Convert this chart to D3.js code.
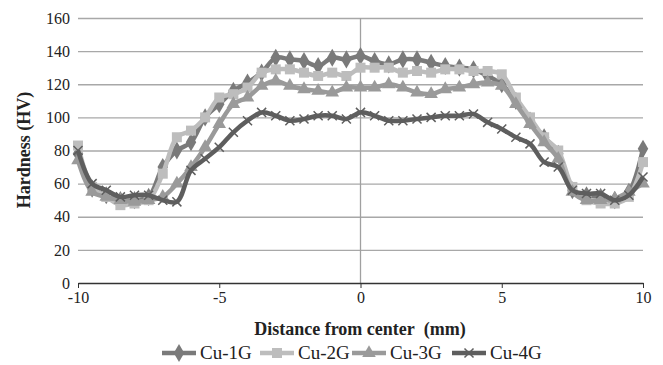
<!DOCTYPE html>
<html>
<head>
<meta charset="utf-8">
<script src="https://cdn.jsdelivr.net/npm/d3@7"></script>
<style>
  html, body { margin: 0; padding: 0; background: #fff; overflow: hidden; }
  svg { display: block; }
  svg text { font-family: "Liberation Serif", "Times New Roman", serif; fill: #222; }
</style>
</head>
<body>
<svg id="chart" width="663" height="365"></svg>
<script>
const distance = [-10,-9.5,-9,-8.5,-8,-7.5,-7,-6.5,-6,-5.5,-5,-4.5,-4,-3.5,-3,-2.5,-2,-1.5,-1,-0.5,0,
  0.5,1,1.5,2,2.5,3,3.5,4,4.5,5,5.5,6,6.5,7,7.5,8,8.5,9,9.5,10]

const cu1G = [78,57,53,50,50,52,70,80,85,100,108,116,121,127,136,135,134,131,136,135,137,
  134,132,135,135,133,131,130,129,125,120,110,98,88,78,56,53,52,50,55,81]
const cu2G = [83,58,52,47,48,50,66,88,92,100,112,114,118,127,129,129,127,125,127,125,130,
  130,130,127,128,127,129,129,128,128,126,112,100,88,80,58,50,48,48,52,73]
const cu3G = [74,55,52,50,49,50,52,60,70,82,96,108,112,119,122,119,117,116,115,118,118,
  118,120,118,115,114,117,118,120,121,119,108,96,85,75,55,50,50,51,55,60]
const cu4G = [80,60,56,52,53,53,50,49,68,75,82,91,98,103,101,98,99,101,101,99,103,
  101,98,98,99,100,101,101,102,97,93,88,84,73,70,56,54,54,50,53,64]

const seriesNames = ['Cu-1G', 'Cu-2G', 'Cu-3G', 'Cu-4G']
const xTicks = [-10, -5, 0, 5, 10]
const yTicks = [0, 20, 40, 60, 80, 100, 120, 140, 160]

const svg = d3.select('#chart')
const margin = { top: 18, left: 78 }
const innerWidth = 643 - margin.left
const innerHeight = 283 - margin.top

const series = [
  { name: seriesNames[0], values: cu1G, color: '#7a7a7a', symbol: d3.symbolDiamond, size: 95 },
  { name: seriesNames[1], values: cu2G, color: '#bdbdbd', symbol: d3.symbolSquare, size: 100 },
  { name: seriesNames[2], values: cu3G, color: '#9a9a9a', symbol: d3.symbolTriangle, size: 80 },
  { name: seriesNames[3], values: cu4G, color: '#5e5e5e', symbol: d3.symbolTimes, size: 55 }
]

const xScale = d3.scaleLinear().domain([-10, 10]).range([0, innerWidth])
const yScale = d3.scaleLinear().domain([0, 160]).range([innerHeight, 0])

const g = svg.append('g')
  .attr('transform', `translate(${margin.left},${margin.top})`)

// gridlines
const yAxisG = g.append('g')
  .call(d3.axisLeft(yScale).tickValues(yTicks).tickSize(-innerWidth).tickPadding(8).tickFormat(d => String(d)))
yAxisG.attr('font-family', null).attr('font-size', 16)
yAxisG.select('.domain').remove()
yAxisG.selectAll('.tick line').attr('stroke', '#a8a8a8').attr('stroke-width', 1.3)
yAxisG.selectAll('.tick text').attr('fill', '#222')
yAxisG.selectAll('.tick').filter(d => d === 0).select('line').remove()

// center vertical axis
g.append('line')
  .attr('x1', xScale(0)).attr('x2', xScale(0))
  .attr('y1', 0).attr('y2', innerHeight)
  .attr('stroke', '#a0a0a0').attr('stroke-width', 1.3)

const xAxisG = g.append('g')
  .attr('transform', `translate(0,${innerHeight})`)
  .call(d3.axisBottom(xScale).tickValues(xTicks).tickSize(5).tickPadding(4).tickSizeOuter(0).tickFormat(d => String(d)))
xAxisG.attr('font-family', null).attr('font-size', 16)
xAxisG.select('.domain').attr('stroke', '#333').attr('stroke-width', 1.3)
xAxisG.selectAll('.tick line').attr('stroke', '#333')
xAxisG.selectAll('.tick text').attr('fill', '#222')

const lineGenerator = d3.line()
  .x((d, i) => xScale(distance[i]))
  .y(d => yScale(d))
  .curve(d3.curveCatmullRom.alpha(0.5))

series.forEach(s => {
  g.append('path')
    .attr('d', lineGenerator(s.values))
    .attr('fill', 'none')
    .attr('stroke', s.color)
    .attr('stroke-width', 4.5)

  const sym = d3.symbol().type(s.symbol).size(s.size)
  g.selectAll(null)
    .data(s.values)
    .enter()
    .append('path')
    .attr('transform', (d, i) => `translate(${xScale(distance[i])},${yScale(d)})`)
    .attr('d', sym())
    .attr('fill', s.color)
    .attr('stroke', s.color)
    .attr('stroke-width', s.symbol === d3.symbolTimes ? 1.5 : 0)
})

// axis titles
svg.append('text')
  .attr('x', 360).attr('y', 335)
  .attr('text-anchor', 'middle')
  .attr('font-size', 18).attr('font-weight', 'bold')
  .text('Distance from center\u00a0 (mm)')

svg.append('text')
  .attr('transform', 'translate(30,150) rotate(-90)')
  .attr('text-anchor', 'middle')
  .attr('font-size', 18).attr('font-weight', 'bold')
  .text('Hardness (HV)')

// legend
const legendX = [162, 260, 352, 452]
const legend = svg.append('g')
series.forEach((s, i) => {
  const lg = legend.append('g').attr('transform', `translate(${legendX[i]},353)`)
  lg.append('line')
    .attr('x1', 0).attr('x2', 34).attr('y1', 0).attr('y2', 0)
    .attr('stroke', s.color).attr('stroke-width', 4.5)
  lg.append('path')
    .attr('transform', 'translate(17,0)')
    .attr('d', d3.symbol().type(s.symbol).size(s.size)())
    .attr('fill', s.color).attr('stroke', s.color)
    .attr('stroke-width', s.symbol === d3.symbolTimes ? 1.5 : 0)
  lg.append('text')
    .attr('x', 38).attr('y', 6)
    .attr('font-size', 19)
    .text(s.name)
})
</script>
</body>
</html>
